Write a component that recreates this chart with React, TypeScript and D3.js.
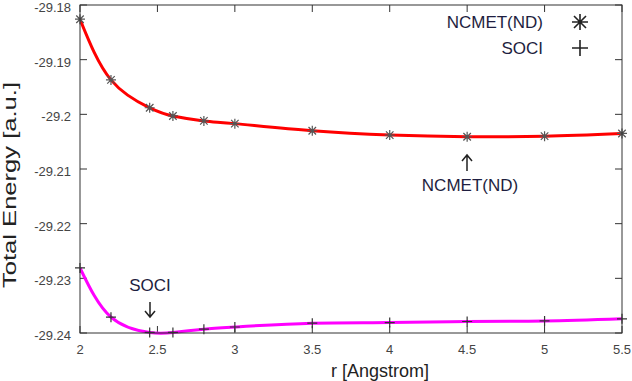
import React from 'react';
import * as d3 from 'd3';

// bond distance r in Angstrom
const rValues = [2, 2.2, 2.45, 2.6, 2.8, 3, 3.5, 4, 4.5, 5, 5.5];
const ncmetEnergy = [-29.1826, -29.1937, -29.1988, -29.2003, -29.2012, -29.2017, -29.203, -29.2038, -29.2041, -29.204, -29.2035];
const sociEnergy = [-29.2281, -29.2371, -29.2399, -29.2399, -29.2393, -29.2389, -29.2382, -29.2381, -29.2379, -29.2378, -29.2374];
const xTicks = [2, 2.5, 3, 3.5, 4, 4.5, 5, 5.5];
const yTicks = [-29.18, -29.19, -29.2, -29.21, -29.22, -29.23, -29.24];

const W = 632;
const H = 381;
const left = 80;
const right = 622;
const top = 5;
const bottom = 333;

const star = (cx: number, cy: number, s: number) => {
  const d = s * 0.75;
  return `M${cx - s},${cy}H${cx + s}M${cx},${cy - s}V${cy + s}M${cx - d},${cy - d}L${cx + d},${cy + d}M${cx - d},${cy + d}L${cx + d},${cy - d}`;
};
const plus = (cx: number, cy: number, s: number) => `M${cx - s},${cy}H${cx + s}M${cx},${cy - s}V${cy + s}`;

const App = () => {
  const x = d3.scaleLinear().domain([2, 5.5]).range([left, right]);
  const y = d3.scaleLinear().domain([-29.24, -29.18]).range([bottom, top]);

  const line = d3
    .line<number>()
    .x((_, i) => x(rValues[i]))
    .y((d) => y(d))
    .curve(d3.curveNatural);

  const font = 'Liberation Sans, Arial, sans-serif';
  const tickLen = 7;

  return (
    <svg width={W} height={H} style={{ position: 'absolute', left: 0, top: 0, background: '#fff' }} fontFamily={font}>
      <defs>
        <clipPath id="plot">
          <rect x={left} y={top} width={right - left} height={bottom - top + 2} />
        </clipPath>
      </defs>

      {/* ticks, mirrored on all sides */}
      <g stroke="#333" strokeWidth={1}>
        {xTicks.map((t) => (
          <g key={'x' + t}>
            <line x1={x(t)} x2={x(t)} y1={bottom} y2={bottom - tickLen} />
            <line x1={x(t)} x2={x(t)} y1={top} y2={top + tickLen} />
          </g>
        ))}
        {yTicks.map((t) => (
          <g key={'y' + t}>
            <line x1={left} x2={left + tickLen} y1={y(t)} y2={y(t)} />
            <line x1={right} x2={right - tickLen} y1={y(t)} y2={y(t)} />
          </g>
        ))}
      </g>

      {/* tick labels */}
      <g fill="#444" fontSize={13}>
        {xTicks.map((t) => (
          <text key={'xl' + t} x={x(t)} y={bottom + 21} textAnchor="middle">
            {String(t)}
          </text>
        ))}
        {yTicks.map((t) => (
          <text key={'yl' + t} x={71} y={y(t) + 7} textAnchor="end">
            {String(+t.toFixed(2))}
          </text>
        ))}
      </g>

      {/* axis titles */}
      <text x={380} y={377} textAnchor="middle" fontSize={18} fill="#222">
        r [Angstrom]
      </text>
      <text
        transform={`translate(16, 185) rotate(-90)`}
        textAnchor="middle"
        fontSize={18}
        fill="#222"
        textLength={206}
        lengthAdjust="spacingAndGlyphs"
      >
        Total Energy [a.u.]
      </text>

      {/* curves */}
      <g clipPath="url(#plot)">
        <path d={line(ncmetEnergy) || ''} fill="none" stroke="#ff0000" strokeWidth={3} />
        <path d={line(sociEnergy) || ''} fill="none" stroke="#ff00ff" strokeWidth={3} />
      </g>

      {/* points */}
      <g stroke="#555" strokeWidth={1.2} fill="none">
        {ncmetEnergy.map((v, i) => (
          <path key={'n' + i} d={star(x(rValues[i]), y(v), 5)} />
        ))}
      </g>
      <g stroke="#333" strokeWidth={1.2} fill="none">
        {sociEnergy.map((v, i) => (
          <path key={'s' + i} d={plus(x(rValues[i]), y(v), 5)} />
        ))}
      </g>

      {/* frame */}
      <rect x={left} y={top} width={right - left} height={bottom - top} fill="none" stroke="#333" strokeWidth={1} />

      {/* legend */}
      <g fontSize={17} fill="#1e1e40" textAnchor="end">
        <text x={543} y={28}>NCMET(ND)</text>
        <text x={543} y={54}>SOCI</text>
      </g>
      <path d={star(580, 22, 8)} stroke="#222" strokeWidth={1.6} fill="none" />
      <path d={plus(580, 48, 8)} stroke="#222" strokeWidth={1.6} fill="none" />

      {/* annotations */}
      <g fontSize={17} fill="#1e1e40" textAnchor="middle">
        <text x={470} y={191}>NCMET(ND)</text>
        <text x={150} y={291}>SOCI</text>
      </g>
      <g stroke="#222" strokeWidth={1.5} fill="none">
        <path d="M467,171V155M462,161L467,155L472,161" />
        <path d="M150,302V317M145,311L150,317L155,311" />
      </g>
    </svg>
  );
};

export default App;
